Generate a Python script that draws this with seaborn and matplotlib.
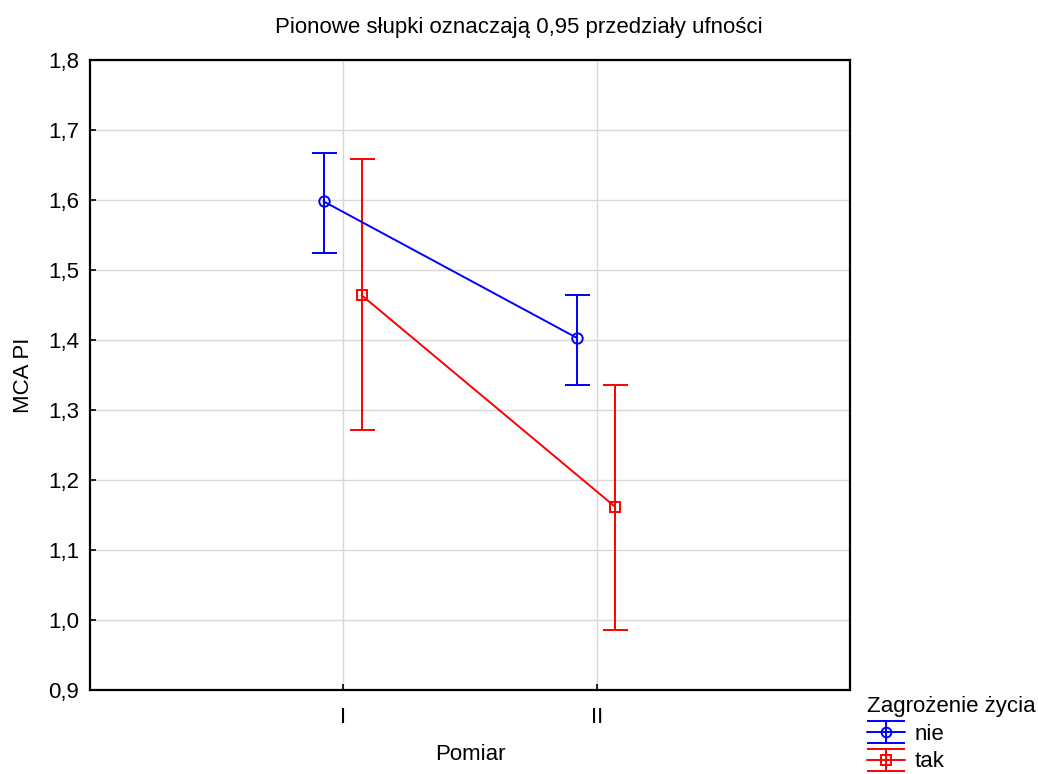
import matplotlib
matplotlib.use("Agg")
import matplotlib.pyplot as plt
import seaborn as sns
import pandas as pd
from matplotlib.ticker import FuncFormatter
from matplotlib.lines import Line2D
from matplotlib.path import Path
from matplotlib.legend_handler import HandlerTuple

# ---- data ----
pomiar = ["I", "II"]
groups = ["nie", "tak"]
mean_nie = [1.598, 1.403]
low_nie = [1.525, 1.336]
high_nie = [1.667, 1.465]
mean_tak = [1.464, 1.162]
low_tak = [1.271, 0.986]
high_tak = [1.658, 1.336]
yticks = [0.9, 1.0, 1.1, 1.2, 1.3, 1.4, 1.5, 1.6, 1.7, 1.8]

sns.set_theme(style="white")
plt.rcParams['font.family'] = ['Liberation Sans', 'DejaVu Sans']
plt.rcParams['text.color'] = 'black'
plt.rcParams['axes.labelcolor'] = 'black'
plt.rcParams['xtick.color'] = 'black'
plt.rcParams['ytick.color'] = 'black'

rows = []
for g, m, lo, hi in [("nie", mean_nie, low_nie, high_nie), ("tak", mean_tak, low_tak, high_tak)]:
    for i, p in enumerate(pomiar):
        rows.append(dict(Pomiar=p, pos=i, grupa=g, mean=m[i], low=lo[i], high=hi[i]))
df = pd.DataFrame(rows)

offsets = {"nie": -0.078, "tak": 0.072}
colors = {"nie": "#0000ff", "tak": "#ff0000"}
markers = {"nie": "o", "tak": "s"}
df["x"] = df["pos"] + df["grupa"].map(offsets)

fig = plt.figure(figsize=(10.38, 7.74), dpi=100)
ax = fig.add_axes([90/1038, 1-690/774, 760/1038, 630/774])

sns.lineplot(data=df, x="x", y="mean", hue="grupa", style="grupa",
             palette=colors, markers=markers, dashes=False, ax=ax,
             markersize=7.5, markeredgewidth=1.4,
             linewidth=1.4, legend=False, sort=True, estimator=None, zorder=3)
for line in ax.lines:
    c = line.get_color()
    line.set_markeredgecolor(c)
    line.set_markerfacecolor("none")

for g in groups:
    sub = df[df.grupa == g]
    ax.errorbar(sub["x"], sub["mean"],
                yerr=[sub["mean"] - sub["low"], sub["high"] - sub["mean"]],
                fmt="none", ecolor=colors[g], elinewidth=1.4, capsize=9, capthick=1.4, zorder=2)

# legend handle: error bar glyph (vertical bar with two caps) + line with marker
cap_h = 0.58
errglyph = Path([(-1, cap_h), (1, cap_h), (0, cap_h), (0, -cap_h), (-1, -cap_h), (1, -cap_h)],
                [Path.MOVETO, Path.LINETO, Path.MOVETO, Path.LINETO, Path.MOVETO, Path.LINETO])
handles = []
for g in groups:
    ln = Line2D([], [], color=colors[g], linewidth=1.4, marker=markers[g], markersize=7,
                markerfacecolor="none", markeredgecolor=colors[g], markeredgewidth=1.4)
    eg = Line2D([], [], linestyle="none", marker=errglyph, markersize=27.5,
                markerfacecolor="none", markeredgecolor=colors[g], markeredgewidth=1.4)
    handles.append((eg, ln))

ax.set_xlim(-1.0, 2.0)
ax.set_ylim(0.9, 1.8)
ax.set_xticks([0, 1])
ax.set_xticklabels(pomiar)
ax.set_yticks(yticks)
ax.yaxis.set_major_formatter(FuncFormatter(lambda v, p: f"{v:.1f}".replace(".", ",")))
ax.grid(True, color="#d8d8d8", linewidth=1)
ax.tick_params(direction="in", length=4, width=1.2, labelsize=16, color="black",
               left=True, bottom=True)
ax.tick_params(axis="y", pad=8)
ax.tick_params(axis="x", pad=12)
for s in ax.spines.values():
    s.set_color("black")
    s.set_linewidth(1.6)
ax.set_xlabel("Pomiar", fontsize=16, labelpad=12)
ax.set_ylabel("MCA PI", fontsize=16, labelpad=10)
fig.suptitle("Pionowe słupki oznaczają 0,95 przedziały ufności", fontsize=16, x=0.5, y=0.978)

leg = fig.legend(handles, groups, title="Zagrożenie życia", loc="upper left",
                 bbox_to_anchor=(867/1038, 1-696/774), frameon=False, fontsize=16,
                 title_fontsize=16, handlelength=1.7, handletextpad=0.45,
                 labelspacing=0.3, borderpad=0, borderaxespad=0,
                 handler_map={tuple: HandlerTuple(ndivide=1, pad=0)})
leg._legend_box.align = "left"

fig.savefig("out.png", dpi=100)
